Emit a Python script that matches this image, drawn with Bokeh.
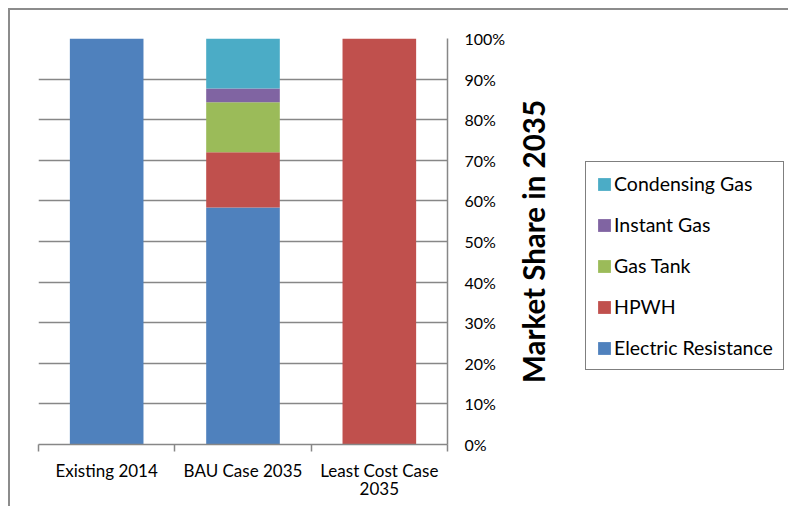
from bokeh.plotting import figure
from bokeh.layouts import row
from bokeh.models import FixedTicker, Legend, LegendItem, Range1d, ColumnDataSource
from bokeh.embed import file_html
from bokeh.resources import INLINE

# ---- data ----
categories = ["Existing 2014", "BAU Case 2035", "Least Cost Case 2035"]
category_labels = ["Existing 2014", "BAU Case 2035", "Least Cost Case\n2035"]
series_names = ["Electric Resistance", "HPWH", "Gas Tank", "Instant Gas", "Condensing Gas"]
electric_resistance = [100.0, 58.4, 0.0]
hpwh = [0.0, 13.6, 100.0]
gas_tank = [0.0, 12.3, 0.0]
instant_gas = [0.0, 3.4, 0.0]
condensing_gas = [0.0, 12.3, 0.0]
y_ticks = [0, 10, 20, 30, 40, 50, 60, 70, 80, 90, 100]
y_tick_labels = ["0%", "10%", "20%", "30%", "40%", "50%", "60%", "70%", "80%", "90%", "100%"]
y_title = "Market Share in 2035"
colors = ["#4F81BD", "#C0504D", "#9BBB59", "#8064A2", "#4BACC6"]

FONT = "Lato"
GRAY = "#878787"
H = 496

xpos = [i + 0.5 for i in range(len(categories))]
source = ColumnDataSource(dict(
    x=xpos,
    **{"Electric Resistance": electric_resistance,
       "HPWH": hpwh,
       "Gas Tank": gas_tank,
       "Instant Gas": instant_gas,
       "Condensing Gas": condensing_gas}))

# ---------------- main chart ----------------
p = figure(width=502, height=H,
           x_range=Range1d(0, len(categories)), y_range=Range1d(0, 100),
           y_axis_location="right",
           output_backend="svg", toolbar_location=None,
           min_border_left=28, min_border_top=28,
           min_border_right=65, min_border_bottom=62)
p.outline_line_color = None
p.background_fill_color = "white"
p.border_fill_color = "white"

renderers = p.vbar_stack(series_names, x="x", width=0.54, source=source,
                         color=colors, line_color=None)

p.xgrid.grid_line_color = None
p.ygrid.ticker = FixedTicker(ticks=y_ticks)
p.ygrid.grid_line_color = GRAY
p.ygrid.grid_line_width = 1.5

ya = p.yaxis[0]
ya.ticker = FixedTicker(ticks=y_ticks)
ya.major_label_overrides = {t: l for t, l in zip(y_ticks, y_tick_labels)}
ya.major_tick_out = 0
ya.major_tick_in = 0
ya.minor_tick_out = 0
ya.minor_tick_in = 0
ya.axis_line_color = GRAY
ya.axis_line_width = 1.5
ya.major_label_text_font = FONT
ya.major_label_text_font_size = "16px"
ya.major_label_text_color = "#000000"
ya.major_label_standoff = 17

xa = p.xaxis[0]
xa.ticker = FixedTicker(ticks=xpos, minor_ticks=list(range(len(categories) + 1)))
xa.major_label_overrides = {x: l for x, l in zip(xpos, category_labels)}
xa.major_tick_out = 0
xa.major_tick_in = 0
xa.minor_tick_out = 7
xa.minor_tick_in = 0
xa.minor_tick_line_color = GRAY
xa.minor_tick_line_width = 1.5
xa.axis_line_color = GRAY
xa.axis_line_width = 1.5
xa.major_label_text_font = FONT
xa.major_label_text_font_size = "17px"
xa.major_label_text_color = "#000000"
xa.major_label_text_line_height = 0.9
xa.major_label_standoff = 8

# ---------------- side panel: axis title + legend ----------------
s = figure(width=276, height=H,
           x_range=Range1d(-2, -1), y_range=Range1d(0, 100),
           x_axis_location=None, y_axis_location="left",
           output_backend="svg", toolbar_location=None,
           min_border_left=30, min_border_top=28,
           min_border_right=0, min_border_bottom=62)
s.outline_line_color = None
s.grid.grid_line_color = None
s.background_fill_color = "white"
s.border_fill_color = "white"

sy = s.yaxis[0]
sy.ticker = FixedTicker(ticks=[])
sy.axis_line_color = None
sy.major_tick_out = 0
sy.major_tick_in = 0
sy.minor_tick_out = 0
sy.minor_tick_in = 0
sy.axis_label = y_title
sy.axis_label_text_font = FONT
sy.axis_label_text_font_style = "bold"
sy.axis_label_text_font_size = "29.5px"
sy.axis_label_text_color = "#000000"
sy.axis_label_standoff = 5

# same stacked series, drawn outside this panel's visible x-range; used only as legend swatches
legend_renderers = s.vbar_stack(series_names, x="x", width=0.54, source=source,
                                color=colors, line_color=None)
items = [LegendItem(label=n, renderers=[r]) for n, r in zip(series_names, legend_renderers)]

legend = Legend(items=list(reversed(items)), location=(30, 74))
legend.label_text_font = FONT
legend.label_text_font_size = "19.5px"
legend.label_text_color = "#000000"
legend.glyph_width = 16
legend.glyph_height = 16
legend.label_height = 20
legend.label_standoff = 2
legend.spacing = 18
legend.padding = 10
legend.margin = 0
legend.border_line_color = "#000000"
legend.border_line_width = 1.5
legend.background_fill_color = "white"
legend.background_fill_alpha = 1.0
s.add_layout(legend)

layout = row(p, s)
layout.styles = {"margin-left": "8px", "margin-top": "8px",
                 "border-left": "2px solid #8c8c8c", "border-top": "2px solid #8c8c8c"}

open("out.html", "w").write(file_html(layout, INLINE))
